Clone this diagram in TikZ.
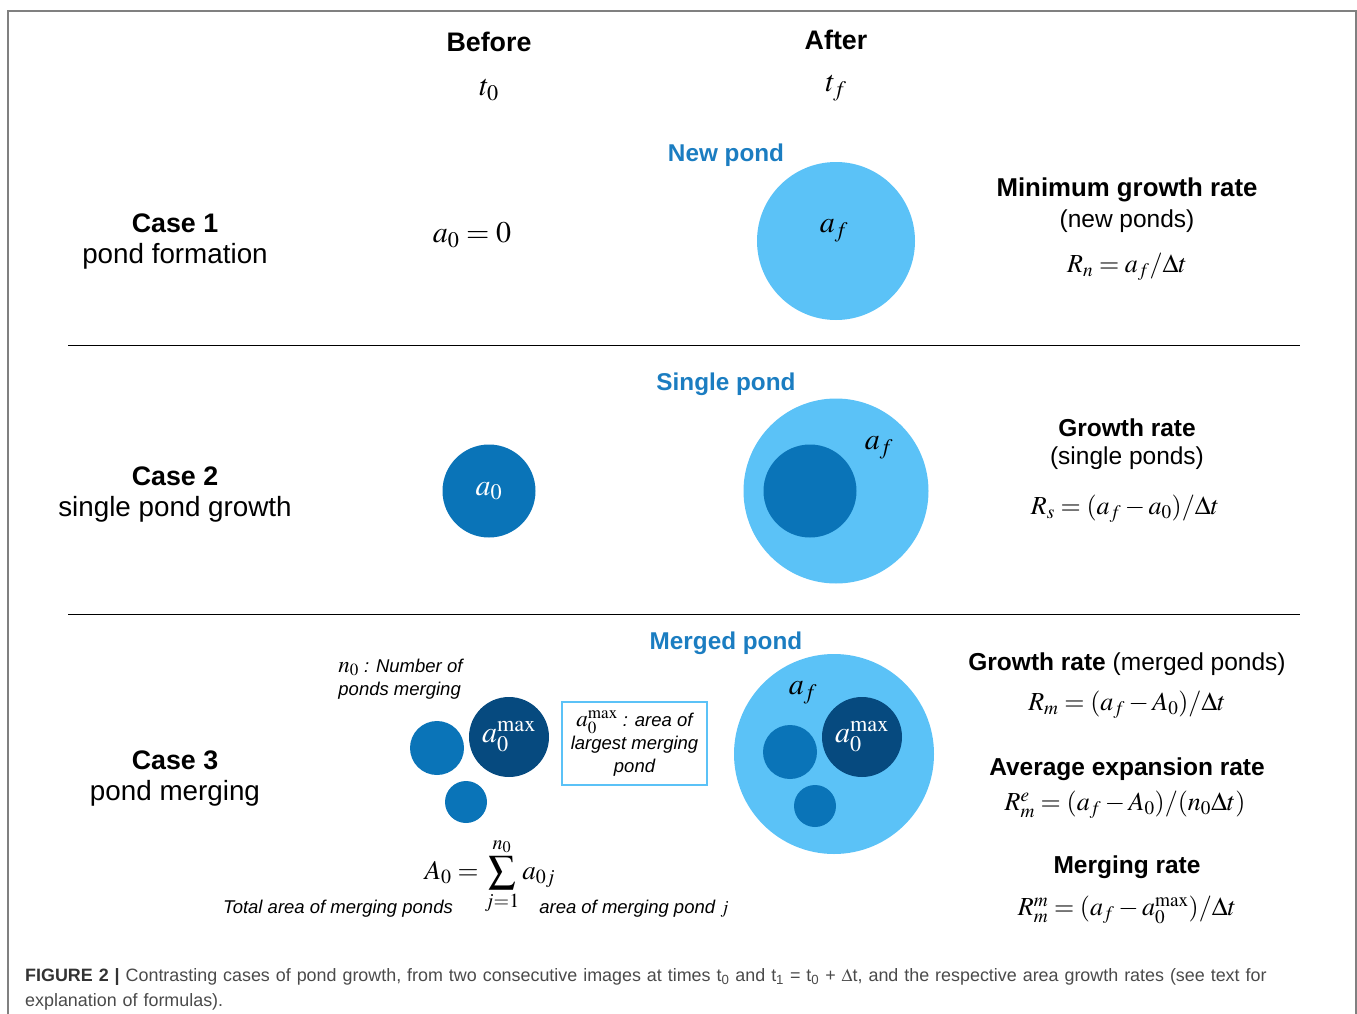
\documentclass[tikz,border=0pt]{standalone}
\usepackage{amsmath}
\usepackage{mathptmx}
\usepackage[no-math]{fontspec}
\setmainfont{Liberation Sans}
\usepackage{xcolor}
\usepackage{tikz}
\usetikzlibrary{positioning}

\definecolor{pondlight}{HTML}{5BC2F7}
\definecolor{pondmid}{HTML}{0A74B8}
\definecolor{ponddark}{HTML}{064A7F}
\definecolor{titleblue}{HTML}{1B7DC1}
\definecolor{framegray}{HTML}{808080}
\definecolor{captiongray}{HTML}{4A4A4A}

\newcommand{\fsz}[1]{\fontsize{#1}{#1}\selectfont}

\begin{document}
\begin{tikzpicture}[x=1pt, y=-1pt,
  head/.style={font=\fsz{26.8}\bfseries},
  plain/.style={font=\fsz{27.8}},
  ratehead/.style={font=\fsz{24.5}\bfseries},
  ratetxt/.style={font=\fsz{24.5}},
  pondtitle/.style={font=\fsz{24.3}\bfseries, text=titleblue},
  formula/.style={font=\fsz{30}},
  rateeq/.style={font=\fsz{26}},
  note/.style={font=\fontsize{18.5}{23}\selectfont\itshape, align=center},
  pond/.style={circle, inner sep=0pt},
  pondlbl/.style={font=\fsz{30}, text=white}]

\useasboundingbox (0,0) rectangle (1357,1014);
\draw [framegray, line width=1.5pt] (8,1014) -- (8,11) -- (1356,11) -- (1356,1014);

% column heads
\node (before) [head] at (489,42) {Before};
\node (after) [head] at (836,40) {After};
\node (tzero) [formula] at (489,90) {$t_0$};
\node (tfinal) [formula] at (836,88) {$t_f$};

% separators
\draw [line width=1pt] (68,345) -- (1300,345);
\draw [line width=1pt] (68,614) -- (1300,614);

% case 1
\node (caseone) [head] at (175,223) {Case 1};
\node (caseonetxt) [plain] at (175,256) {pond formation};
\node (azero) [formula] at (472,235) {$a_0 = 0$};
\node (newpond) [pondtitle] at (726,155) {New pond};
\node (pondnew) [pond, fill=pondlight, minimum size=158] at (836,241) {};
\node (pondnewlbl) [formula] at (834,231) {$a_f$};
\node (minrate) [ratehead, font=\fsz{25.8}\bfseries] at (1127,190) {Minimum growth rate};
\node (minratetxt) [ratetxt] at (1127,221) {(new ponds)};
\node (minrateeq) [rateeq] at (1127,267) {$R_n = a_f / \Delta t$};

% case 2
\node (casetwo) [head] at (175,476) {Case 2};
\node (casetwotxt) [plain] at (175,509) {single pond growth};
\node (pondold) [pond, fill=pondmid, minimum size=93, pondlbl] at (489,491) {$a_0$};
\node (singlepond) [pondtitle] at (726,384) {Single pond};
\node (pondgrown) [pond, fill=pondlight, minimum size=185] at (836,491) {};
\node (pondcore) [pond, fill=pondmid, minimum size=93] at (810,491) {};
\node (pondgrownlbl) [formula] at (879,448) {$a_f$};
\node (grate) [ratehead] at (1127,428) {Growth rate};
\node (gratetxt) [ratetxt] at (1127,458) {(single ponds)};
\node (grateeq) [rateeq] at (1125,509) {$R_s = (a_f - a_0)/\Delta t$};

% case 3
\node (casethree) [head] at (175,760) {Case 3};
\node (casethreetxt) [plain] at (175,793) {pond merging};
\node (countnote) [note, align=left, anchor=east] at (466,679) {{\fsz{23}$n_0$} : Number of\\ponds merging};
\node (mergeA) [pond, fill=pondmid, minimum size=54] at (437,748) {};
\node (mergemax) [pond, fill=ponddark, minimum size=80, pondlbl] at (509,737) {$a_0^{\mathrm{max}}$};
\node (mergeB) [pond, fill=pondmid, minimum size=42] at (466,802) {};
\node (maxnote) [note, draw=pondlight, line width=2.5pt, minimum width=145, minimum height=83, inner sep=2pt] at (634.5,743.5) {{\fsz{23}$a_0^{\mathrm{max}}$} : area of\\largest merging\\pond};
\node (mergedpond) [pondtitle] at (726,643) {Merged pond};
\node (merged) [pond, fill=pondlight, minimum size=200] at (834,754) {};
\node (mergedA) [pond, fill=pondmid, minimum size=54] at (790,752) {};
\node (mergedmax) [pond, fill=ponddark, minimum size=80, pondlbl] at (862,737) {$a_0^{\mathrm{max}}$};
\node (mergedB) [pond, fill=pondmid, minimum size=42] at (815,806) {};
\node (mergedlbl) [formula] at (803,693) {$a_f$};
\node (sumeq) [font=\fsz{27}] at (490,876) {$\displaystyle A_0 = \sum_{j=1}^{n_0} a_{0j}$};
\node (sumtotal) [note] at (338,909) {Total area of merging ponds};
\node (sumterm) [note] at (634,909) {area of merging pond $j$};
\node (mrate) [ratetxt] at (1127,664) {\textbf{Growth rate} (merged ponds)};
\node (mrateeq) [rateeq] at (1127,705) {$R_m = (a_f - A_0)/\Delta t$};
\node (erate) [ratehead] at (1127,769) {Average expansion rate};
\node (erateeq) [rateeq] at (1125,805) {$R_m^e = (a_f - A_0)/(n_0 \Delta t)$};
\node (xrate) [ratehead] at (1127,867) {Merging rate};
\node (xrateeq) [rateeq] at (1127,910) {$R_m^m = (a_f - a_0^{\mathrm{max}})/\Delta t$};

% caption
\node (caption) [anchor=north west, inner sep=0pt, text width=1310, align=left,
  font=\fontsize{17.9}{25}\selectfont, text=captiongray] at (25,968)
  {{\color{black!80}\textbf{FIGURE 2 |}} Contrasting cases of pond growth, from two consecutive images at times t\textsubscript{0} and t\textsubscript{1} = t\textsubscript{0} + $\Delta$t, and the respective area growth rates (see text for\\explanation of formulas).};
\end{tikzpicture}
\end{document}
